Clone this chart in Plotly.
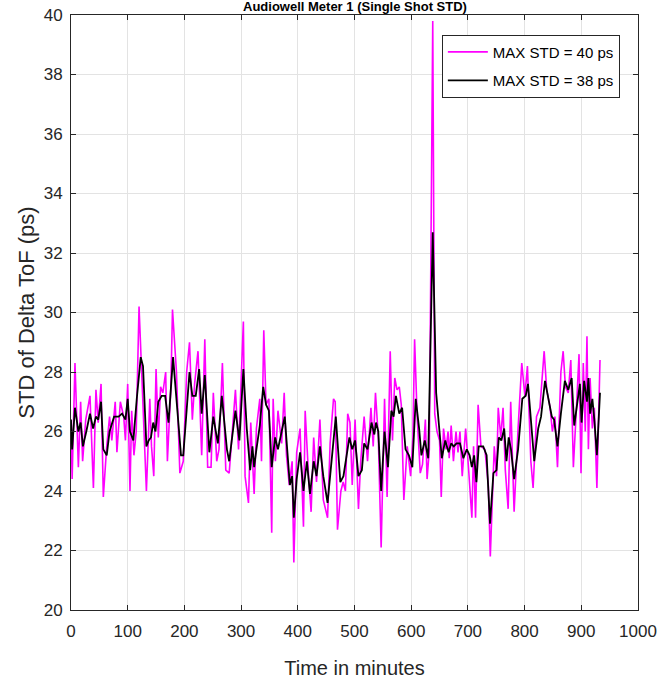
import plotly.graph_objects as go

# Single-shot STD (magenta)
t_single = [0, 2, 7, 13, 17, 20.5, 26, 33.5, 39.5, 44, 48, 53, 57, 63, 68, 72, 78, 81, 87, 93,
            96, 100, 104, 107, 111, 115, 120, 126, 133, 139, 142, 146, 150, 154, 158, 162, 167, 170,
            176, 179, 186, 192, 198, 204, 209, 214, 218, 224, 230.5, 236, 241, 247, 251, 257, 261,
            267, 273, 279, 285, 290, 295.5, 299, 304, 307, 313, 317, 323, 327, 333, 336, 340, 344,
            349, 354, 356.5, 360.5, 365, 371.5, 376, 380, 385, 390, 393, 398, 404, 410, 413, 419,
            423.5, 428, 433, 439, 445, 452.5, 457, 463, 466, 470, 476, 480, 484, 488, 492, 496, 501,
            507, 511, 517, 523, 529, 533, 537, 542, 547, 553, 557.5, 563, 567, 571, 575, 579, 582.5,
            587, 593, 599, 603, 606, 610.5, 616, 620, 625, 628, 632, 638, 641.5, 645.5, 650, 653,
            657, 661.5, 665, 667, 670.5, 674.5, 679, 682.5, 686, 690, 696, 701, 707, 710, 713.5,
            718, 723, 730, 736, 739.5, 743, 746.5, 750.5, 753.5, 758, 762, 766, 771, 775.5, 781.5,
            788.5, 795, 800.5, 805, 811, 815, 821, 827, 834.5, 839, 845, 849, 853.5, 858, 864, 868,
            872, 877, 881.5, 886, 892, 896, 899.5, 903.5, 907, 910, 912.5, 915.5, 919.5, 923,
            927.5, 933]
std_single = [26.3, 24.4, 28.3, 24.8, 27.0, 25.0, 26.4, 27.2, 24.1, 27.4, 26.3, 27.6, 23.8, 25.5,
              26.5, 25.7, 27.0, 25.3, 27.0, 26.5, 25.7, 27.6, 24.0, 26.7, 25.2, 26.0, 30.2, 27.4,
              24.0, 27.1, 25.5, 24.5, 28.1, 25.8, 27.5, 27.3, 28.0, 25.0, 27.4, 30.1, 28.0, 24.6,
              25.0, 28.0, 29.0, 26.4, 27.6, 28.7, 25.2, 29.1, 24.8, 24.8, 27.3, 25.0, 25.4, 28.3,
              24.7, 24.6, 26.3, 27.4, 25.4, 27.1, 29.7, 24.5, 23.6, 26.3, 23.9, 26.1, 27.1, 25.0,
              29.4, 26.9, 27.1, 22.6, 27.1, 25.0, 26.7, 25.6, 27.3, 25.2, 24.2, 25.0, 21.6, 25.3,
              26.1, 22.8, 26.7, 24.5, 23.3, 25.8, 24.3, 26.4, 23.7, 23.1, 25.6, 27.1, 27.0, 22.7,
              24.0, 24.3, 24.0, 26.6, 26.3, 24.2, 26.4, 23.4, 25.0, 26.5, 25.0, 26.8, 25.5, 27.3,
              25.8, 22.1, 27.1, 23.8, 28.7, 25.7, 27.8, 27.4, 27.5, 26.9, 23.7, 25.5, 24.5, 25.8,
              29.1, 26.5, 24.6, 24.9, 26.4, 24.4, 25.4, 39.8, 26.6, 26.0, 25.7, 23.8, 26.1, 25.4,
              26.0, 25.1, 26.2, 25.0, 26.0, 25.3, 26.0, 24.5, 26.1, 24.8, 23.1, 25.5, 23.1, 26.9,
              25.5, 25.4, 24.2, 21.8, 24.0, 25.5, 24.5, 26.8, 25.8, 26.8, 24.7, 23.4, 27.0, 23.3,
              26.1, 28.3, 27.2, 28.2, 25.0, 24.1, 26.5, 26.8, 28.7, 27.4, 26.8, 26.0, 26.5, 24.8,
              28.0, 28.7, 27.5, 27.3, 28.4, 24.8, 27.0, 28.6, 24.6, 28.3, 26.0, 29.2, 25.4, 27.8,
              26.1, 26.8, 24.1, 28.4]

# Smoothed STD (black)
t_avg = [0, 2, 7, 13, 17, 21, 27, 33.5, 39, 44, 48, 53, 57, 63, 68, 76, 84, 90, 96, 100, 104, 110,
         116, 123, 127, 133, 137, 141, 145, 149, 154, 160, 166, 172, 180, 189, 194, 198, 209, 214,
         220, 226, 230.5, 236, 244, 251, 259, 266, 275, 279, 290, 297, 304, 310, 316, 320, 323, 327,
         333, 339, 344, 349, 354, 360, 365, 371.5, 377, 386, 390, 393, 398, 404, 410, 416, 421.5,
         428, 433, 439, 445, 452.5, 459, 467, 475, 480.5, 491, 496, 501, 507, 513, 517, 523, 530,
         535, 538, 542, 547, 553, 559, 565, 569, 573, 579, 584, 590, 596, 602, 608, 614, 618, 624,
         630, 638, 644, 650, 654, 660, 666, 670.5, 675, 680, 686, 692, 698, 703, 707, 711, 715,
         719, 727, 733, 739, 745, 750.5, 754.5, 759, 764, 768, 772, 776, 781.5, 788.5, 796, 802,
         806, 812, 817, 824, 829, 836, 843, 848, 852, 858, 864, 871, 877, 883, 887.5, 893.5, 897.5,
         900.5, 905, 910, 912.5, 915.5, 919.5, 923, 927.5, 933]
std_avg = [26.4, 25.4, 26.8, 26.0, 26.3, 25.5, 26.0, 26.6, 26.1, 26.5, 26.4, 27.0, 25.4, 25.2, 26.0,
           26.5, 26.5, 26.6, 26.4, 27.1, 26.0, 25.7, 27.1, 28.5, 28.2, 25.5, 25.7, 25.8, 26.3, 26.0,
           27.0, 27.2, 27.2, 26.3, 28.5, 26.3, 25.2, 25.2, 28.0, 27.2, 27.2, 28.1, 26.6, 27.9, 25.3,
           26.5, 25.6, 27.2, 25.4, 25.0, 26.7, 25.7, 28.1, 26.1, 24.7, 25.5, 24.8, 25.4, 26.2, 27.5,
           26.9, 26.7, 24.8, 25.8, 25.4, 26.0, 26.5, 24.2, 24.5, 23.1, 24.4, 25.3, 24.0, 25.0, 23.9,
           25.0, 24.5, 25.5, 24.5, 23.6, 25.0, 26.5, 24.3, 24.5, 25.8, 25.4, 25.7, 24.5, 24.7, 25.6,
           25.4, 26.3, 25.9, 26.3, 26.0, 24.0, 26.0, 24.8, 26.7, 26.5, 27.2, 26.6, 26.8, 25.4, 25.2,
           24.8, 27.1, 26.1, 25.2, 25.7, 25.1, 32.7, 27.3, 26.1, 25.1, 25.7, 25.3, 25.6, 25.5, 25.6,
           25.6, 25.1, 25.4, 25.2, 24.8, 25.2, 24.3, 25.5, 25.5, 25.2, 22.9, 24.6, 24.7, 25.8, 25.7,
           26.1, 25.0, 25.8, 25.4, 24.4, 25.4, 27.1, 27.2, 27.6, 26.0, 25.0, 26.1, 26.5, 27.7, 27.0,
           26.5, 26.4, 25.5, 26.6, 27.7, 27.4, 27.8, 26.2, 27.0, 27.6, 26.3, 27.7, 27.0, 27.8, 26.6,
           27.1, 26.4, 25.2, 27.3]

x_ticks = list(range(0, 1001, 100))
y_ticks = list(range(20, 41, 2))

FONT = "Liberation Sans, Arial, sans-serif"
AXC = "#262626"

fig = go.Figure()
fig.add_trace(go.Scatter(x=t_single, y=std_single, mode="lines",
                         line=dict(color="#FF00FF", width=1.6),
                         name="MAX STD = 40 ps", legendgroup="a"))
fig.add_trace(go.Scatter(x=t_avg, y=std_avg, mode="lines",
                         line=dict(color="#000000", width=1.8),
                         name="MAX STD = 38 ps", legendgroup="b"))

axis_common = dict(showline=True, linecolor=AXC, linewidth=1, mirror="ticks",
                   ticks="inside", ticklen=5, tickcolor=AXC, automargin=False,
                   showgrid=True, gridcolor="#e3e3e3", gridwidth=1, zeroline=False,
                   tickfont=dict(family=FONT, size=17, color=AXC))

fig.update_xaxes(range=[0, 1000], tickvals=x_ticks, ticklabelstandoff=6,
                 title=dict(text="Time in minutes", font=dict(family=FONT, size=20, color=AXC),
                            standoff=20),
                 **axis_common)
fig.update_yaxes(range=[20, 40], tickvals=y_ticks, ticklabelstandoff=4,
                 title=dict(text="STD of Delta ToF (ps)",
                            font=dict(family=FONT, size=22, color=AXC),
                            standoff=2),
                 **axis_common)

fig.add_annotation(text="<b>Audiowell Meter 1 (Single Shot STD)</b>", xref="paper", yref="paper",
                   x=0.5, y=1, xanchor="center", yanchor="bottom", yshift=-1, showarrow=False,
                   font=dict(family=FONT, size=13, color="#000000"))

fig.update_layout(
    width=658, height=681,
    margin=dict(l=71, r=20, t=15, b=71, autoexpand=False),
    paper_bgcolor="white", plot_bgcolor="white",
    showlegend=True,
    legend=dict(x=0.968, y=0.967, xanchor="right", yanchor="top",
                bgcolor="white", bordercolor=AXC, borderwidth=1,
                font=dict(family=FONT, size=15, color="#000000"),
                tracegroupgap=6, itemwidth=40),
)

fig.write_html("out.html", config={"displayModeBar": False},
               post_script="document.body.style.margin='0';")
